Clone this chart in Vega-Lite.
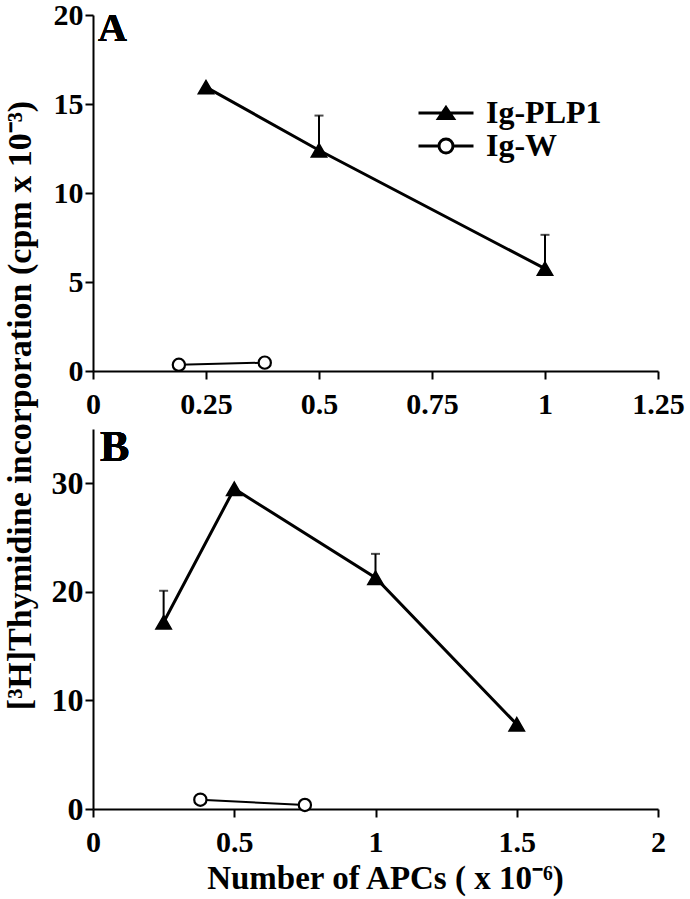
{
  "$schema": "https://vega.github.io/schema/vega-lite/v6.json",
  "background": "white",
  "padding": {"left": 2, "top": 0, "right": 5, "bottom": 2},
  "bounds": "flush",
  "spacing": 58,
  "config": {
    "view": {"stroke": null},
    "font": "Liberation Serif",
    "legend": {"symbolBaseStrokeColor": "black", "symbolBaseFillColor": "transparent"},
    "axis": {
      "grid": false,
      "domainColor": "black",
      "domainWidth": 2,
      "tickColor": "black",
      "tickWidth": 2,
      "tickSize": 8,
      "labelFont": "Liberation Serif",
      "labelFontWeight": "bold",
      "labelFontSize": 30,
      "labelColor": "black",
      "labelFlush": false,
      "labelOverlap": false,
      "titleFont": "Liberation Serif",
      "titleFontWeight": "bold",
      "titleFontSize": 28,
      "titleColor": "black"
    },
    "axisY": {"labelPadding": 2},
    "axisX": {"labelPadding": 10}
  },
  "datasets": {
    "d": [
      {"panel": "A", "series": "Ig-PLP1", "x": 0.25, "y": 15.95, "hi": null},
      {"panel": "A", "series": "Ig-PLP1", "x": 0.5, "y": 12.4, "hi": 14.35},
      {"panel": "A", "series": "Ig-PLP1", "x": 1.0, "y": 5.75, "hi": 7.65},
      {"panel": "A", "series": "Ig-W", "x": 0.19, "y": 0.35, "hi": null},
      {"panel": "A", "series": "Ig-W", "x": 0.38, "y": 0.47, "hi": null},
      {"panel": "B", "series": "Ig-PLP1", "x": 0.25, "y": 17.2, "hi": 20.1},
      {"panel": "B", "series": "Ig-PLP1", "x": 0.5, "y": 29.5, "hi": null},
      {"panel": "B", "series": "Ig-PLP1", "x": 1.0, "y": 21.3, "hi": 23.5},
      {"panel": "B", "series": "Ig-PLP1", "x": 1.5, "y": 7.8, "hi": null},
      {"panel": "B", "series": "Ig-W", "x": 0.38, "y": 0.86, "hi": null},
      {"panel": "B", "series": "Ig-W", "x": 0.75, "y": 0.37, "hi": null}
    ]
  },
  "resolve": {
    "legend": {"shape": "independent"}
  },
  "vconcat": [
    {
      "width": 565,
      "height": 356,
      "data": {"name": "d"},
      "transform": [{"filter": "datum.panel === 'A'"}],
      "encoding": {
        "x": {"field": "x", "type": "quantitative", "scale": {"domain": [0, 1.25], "nice": false, "zero": false},
              "axis": {"values": [0, 0.25, 0.5, 0.75, 1, 1.25], "labelExpr": "'' + datum.value", "title": null}},
        "y": {"field": "y", "type": "quantitative", "scale": {"domain": [0, 20], "nice": false},
              "axis": {"values": [0, 5, 10, 15, 20], "title": "[³H]Thymidine incorporation (cpm x 10⁻³)", "titleFontSize": 34,
                       "titleAngle": 270, "titleAlign": "center", "titleBaseline": "alphabetic", "titleX": -63, "titleY": 390}}
      },
      "layer": [
        {
          "mark": {"type": "text", "text": "A", "font": "Liberation Serif", "fontSize": 40, "fontWeight": "bold", "color": "black", "align": "left", "baseline": "alphabetic", "dx": 5, "dy": 26},
          "encoding": {"x": {"datum": 0}, "y": {"datum": 20}}
        },
        {
          "transform": [{"filter": "isValid(datum.hi)"}],
          "mark": {"type": "rule", "color": "black", "strokeWidth": 2},
          "encoding": {"y2": {"field": "hi"}}
        },
        {
          "transform": [{"filter": "isValid(datum.hi)"}],
          "mark": {"type": "tick", "orient": "horizontal", "size": 9, "thickness": 2, "color": "black"},
          "encoding": {"y": {"field": "hi", "type": "quantitative"}}
        },
        {
          "transform": [{"filter": "datum.series === 'Ig-PLP1'"}],
          "mark": {"type": "line", "color": "black", "strokeWidth": 3},
          "encoding": {}
        },
        {
          "transform": [{"filter": "datum.series === 'Ig-W'"}],
          "mark": {"type": "line", "color": "black", "strokeWidth": 2},
          "encoding": {}
        },
        {
          "transform": [{"filter": "datum.series === 'Ig-PLP1'"}],
          "mark": {"type": "point", "shape": "triangle-up", "filled": true, "fill": "black", "stroke": "black", "strokeWidth": 1.5, "opacity": 1, "size": 240},
          "encoding": {}
        },
        {
          "transform": [{"filter": "datum.series === 'Ig-W'"}],
          "mark": {"type": "point", "shape": "circle", "filled": true, "fill": "white", "stroke": "black", "strokeWidth": 2.2, "opacity": 1, "size": 150},
          "encoding": {}
        },
        {
          "mark": {"type": "point", "filled": false, "opacity": 0, "size": 400, "stroke": "black", "strokeWidth": 3},
          "encoding": {
            "shape": {"field": "series", "type": "nominal",
                      "scale": {"domain": ["Ig-PLP1", "Ig-W"],
                                "range": ["M-2.75,0H2.75M0,-0.55L0.75,0.55L-0.75,0.55ZM-0.136,-0.35H0.136M-0.273,-0.15H0.273M-0.409,0.05H0.409M-0.545,0.25H0.545M-0.682,0.45H0.682",
                                          "M-2.75,0H-0.7M0.7,0H2.75M-0.7,0A0.7,0.7 0 1,0 0.7,0A0.7,0.7 0 1,0 -0.7,0Z"]},
                      "legend": {"title": null, "orient": "none", "legendX": 337, "legendY": 82, "padding": 0, "symbolSize": 400,
                                 "symbolStrokeColor": "black", "symbolStrokeWidth": 3,
                                 "labelFont": "Liberation Serif", "labelFontWeight": "bold",
                                 "labelFontSize": 32, "labelColor": "black", "labelOffset": 24, "rowPadding": 1}}
          }
        }
      ]
    },
    {
      "width": 565,
      "height": 380,
      "data": {"name": "d"},
      "transform": [{"filter": "datum.panel === 'B'"}],
      "encoding": {
        "x": {"field": "x", "type": "quantitative", "scale": {"domain": [0, 2], "nice": false, "zero": false},
              "axis": {"values": [0, 0.5, 1, 1.5, 2], "labelExpr": "'' + datum.value", "title": "Number of APCs ( x 10⁻⁶)", "titleFontSize": 33, "titlePadding": 5, "titleX": 292, "titleAlign": "center"}},
        "y": {"field": "y", "type": "quantitative", "scale": {"domain": [0, 35], "nice": false},
              "axis": {"values": [0, 10, 20, 30], "title": null, "labelFontSize": 32}}
      },
      "layer": [
        {
          "mark": {"type": "text", "text": "B", "font": "Liberation Serif", "fontSize": 44, "fontWeight": "bold", "color": "black", "align": "left", "baseline": "alphabetic", "dx": 7, "dy": 32},
          "encoding": {"x": {"datum": 0}, "y": {"datum": 35}}
        },
        {
          "transform": [{"filter": "isValid(datum.hi)"}],
          "mark": {"type": "rule", "color": "black", "strokeWidth": 2},
          "encoding": {"y2": {"field": "hi"}}
        },
        {
          "transform": [{"filter": "isValid(datum.hi)"}],
          "mark": {"type": "tick", "orient": "horizontal", "size": 9, "thickness": 2, "color": "black"},
          "encoding": {"y": {"field": "hi", "type": "quantitative"}}
        },
        {
          "transform": [{"filter": "datum.series === 'Ig-PLP1'"}],
          "mark": {"type": "line", "color": "black", "strokeWidth": 3},
          "encoding": {}
        },
        {
          "transform": [{"filter": "datum.series === 'Ig-W'"}],
          "mark": {"type": "line", "color": "black", "strokeWidth": 2},
          "encoding": {}
        },
        {
          "transform": [{"filter": "datum.series === 'Ig-PLP1'"}],
          "mark": {"type": "point", "shape": "triangle-up", "filled": true, "fill": "black", "stroke": "black", "strokeWidth": 1.5, "opacity": 1, "size": 240},
          "encoding": {}
        },
        {
          "transform": [{"filter": "datum.series === 'Ig-W'"}],
          "mark": {"type": "point", "shape": "circle", "filled": true, "fill": "white", "stroke": "black", "strokeWidth": 2.2, "opacity": 1, "size": 150},
          "encoding": {}
        }
      ]
    }
  ]
}
